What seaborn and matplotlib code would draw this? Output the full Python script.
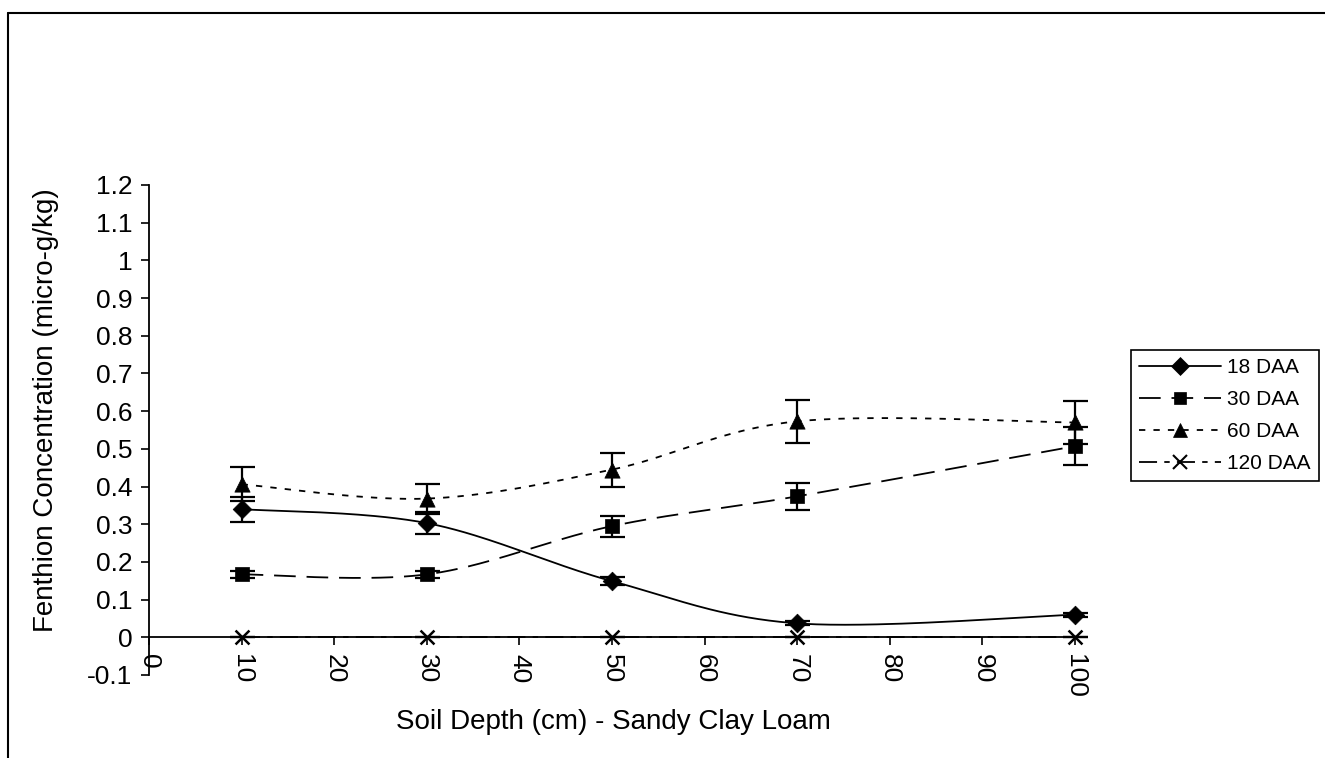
import numpy as np
import pandas as pd
import matplotlib
matplotlib.use("Agg")
import matplotlib.pyplot as plt
from matplotlib.lines import Line2D
import seaborn as sns

# ---- data ----
depth = [10, 30, 50, 70, 100]
series_names = ["18 DAA", "30 DAA", "60 DAA", "120 DAA"]
daa18 = [0.34, 0.303, 0.149, 0.037, 0.06]
daa30 = [0.167, 0.167, 0.295, 0.374, 0.507]
daa60 = [0.406, 0.368, 0.445, 0.573, 0.57]
daa120 = [0.0, 0.0, 0.0, 0.0, 0.0]
err18 = [0.033, 0.03, 0.01, 0.005, 0.005]
err30 = [0.01, 0.01, 0.028, 0.036, 0.05]
err60 = [0.045, 0.04, 0.045, 0.057, 0.057]
err120 = [0.0, 0.0, 0.0, 0.0, 0.0]
x_ticks = list(range(0, 101, 10))
y_ticks = [-0.1, 0, 0.1, 0.2, 0.3, 0.4, 0.5, 0.6, 0.7, 0.8, 0.9, 1, 1.1, 1.2]
y_tick_labels = ["-0.1", "0", "0.1", "0.2", "0.3", "0.4", "0.5", "0.6", "0.7",
                 "0.8", "0.9", "1", "1.1", "1.2"]

values = [daa18, daa30, daa60, daa120]
errors = [err18, err30, err60, err120]
markers = ["D", "s", "^", "x"]
msizes = [9.5, 9.5, 11, 10]
dashes = [None, (12, 6), (3.5, 4.5), (10, 4, 3, 4)]

sns.set_theme(style="white")
plt.rcParams["font.family"] = ["Liberation Sans", "DejaVu Sans"]
plt.rcParams["text.color"] = "black"
plt.rcParams["axes.labelcolor"] = "black"
plt.rcParams["xtick.color"] = "black"
plt.rcParams["ytick.color"] = "black"

fig = plt.figure(figsize=(13.25, 7.58), dpi=100)
ax = fig.add_axes([149 / 1325, 83 / 758, 926 / 1325, 490 / 758])


def smooth(xs, ys, n=40):
    P = np.column_stack([xs, ys]).astype(float)
    m = len(P)
    out = []
    t = np.linspace(0, 1, n)[:, None]
    for i in range(m - 1):
        p0 = P[i]
        p3 = P[i + 1]
        pm = P[i - 1] if i > 0 else P[i]
        pp = P[i + 2] if i + 2 < m else P[i + 1]
        c1 = p0 + (p3 - pm) / 6.0
        c2 = p3 - (pp - p0) / 6.0
        seg = ((1 - t) ** 3) * p0 + 3 * ((1 - t) ** 2) * t * c1 + 3 * (1 - t) * t ** 2 * c2 + t ** 3 * p3
        out.append(seg if i == 0 else seg[1:])
    return np.vstack(out)


# spines first (setting spine position resets tick settings)
for s in ["top", "right"]:
    ax.spines[s].set_visible(False)
ax.spines["bottom"].set_position(("data", 0))
ax.spines["left"].set_position(("data", 0))
for s in ["bottom", "left"]:
    ax.spines[s].set_color("black")
    ax.spines[s].set_linewidth(1.3)

handles = []
for name, ys, es, mk, ms, ds in zip(series_names, values, errors, markers, msizes, dashes):
    curve = smooth(depth, ys)
    cdf = pd.DataFrame({"x": curve[:, 0], "y": curve[:, 1]})
    sns.lineplot(data=cdf, x="x", y="y", ax=ax, color="black", lw=1.3,
                 sort=False, estimator=None)
    line = ax.get_lines()[-1]
    line.set_clip_on(False)
    if ds is not None:
        line.set_dashes(ds)
    eb = ax.errorbar(depth, ys, yerr=es, fmt="none", ecolor="black", elinewidth=1.6,
                     capsize=9, capthick=1.6, zorder=3)
    for art in eb.lines[1] + eb.lines[2]:
        art.set_clip_on(False)
    mdf = pd.DataFrame({"x": depth, "y": ys})
    if mk == "x":
        sns.scatterplot(data=mdf, x="x", y="y", ax=ax, marker=mk, color="black",
                        s=ms ** 2, linewidth=1.8, zorder=4)
    else:
        sns.scatterplot(data=mdf, x="x", y="y", ax=ax, marker=mk, color="black",
                        s=ms ** 2, edgecolor="black", linewidth=0.5, zorder=4)
    ax.collections[-1].set_clip_on(False)
    h = Line2D([], [], color="black", lw=1.3, marker=mk, markersize=ms * 0.95,
               markeredgewidth=1.5 if mk == "x" else 0.5)
    if ds is not None:
        h.set_dashes(ds)
    handles.append(h)

ax.set_xlim(0, 100)
ax.set_ylim(-0.1, 1.2)
ax.set_xticks(x_ticks)
ax.set_xticklabels([str(v) for v in x_ticks], rotation=-90, fontsize=19)
ax.set_yticks(y_ticks)
ax.set_yticklabels(y_tick_labels, fontsize=19)
ax.tick_params(axis="both", which="major", direction="out", length=6, width=1.2,
               color="black", labelcolor="black", bottom=True, left=True)
ax.tick_params(axis="x", pad=6)
ax.tick_params(axis="y", pad=6)
ax.set_xlabel("")
ax.set_ylabel("")
ax.patch.set_alpha(0)

fig.text(613 / 1325, 1 - 722 / 758, "Soil Depth (cm) - Sandy Clay Loam",
         ha="center", va="center", fontsize=20)
fig.text(46 / 1325, 1 - 410 / 758, "Fenthion Concentration (micro-g/kg)",
         ha="center", va="center", rotation=90, fontsize=20)

leg = fig.legend(handles, series_names, loc="upper left",
                 bbox_to_anchor=(1131 / 1325, 1 - 350 / 758),
                 bbox_transform=fig.transFigure, fontsize=15, frameon=True,
                 fancybox=False, framealpha=1, edgecolor="black",
                 handlelength=3.9, handletextpad=0.3, labelspacing=0.62,
                 borderpad=0.4, borderaxespad=0)
leg.get_frame().set_linewidth(1.2)

fig.add_artist(Line2D([8 / 1325, 1], [1 - 13 / 758, 1 - 13 / 758],
                      transform=fig.transFigure, color="black", lw=1.5))
fig.add_artist(Line2D([8 / 1325, 8 / 1325], [0, 1 - 13 / 758],
                      transform=fig.transFigure, color="black", lw=1.5))

fig.savefig("out.png", dpi=100)
